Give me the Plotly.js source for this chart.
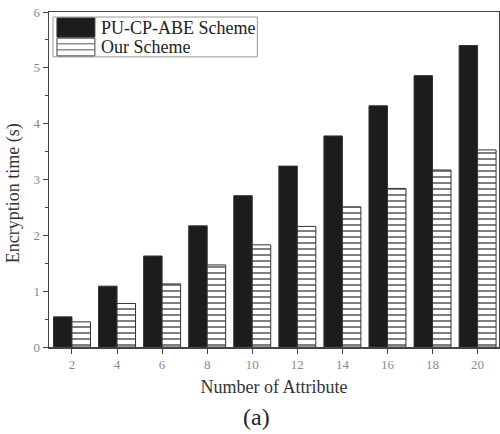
<!DOCTYPE html>
<html>
<head>
<meta charset="utf-8">
<script src="https://cdn.plot.ly/plotly-3.0.1.min.js"></script>
<style>html,body{margin:0;padding:0;background:#fff;}#chart{width:500px;height:434px;}</style>
</head>
<body>
<div id="chart"></div>
<script>
const attributes = [2, 4, 6, 8, 10, 12, 14, 16, 18, 20];
const puCpAbe = [0.54, 1.09, 1.63, 2.17, 2.71, 3.24, 3.78, 4.32, 4.86, 5.40];
const ourScheme = [0.45, 0.78, 1.13, 1.47, 1.83, 2.16, 2.51, 2.84, 3.17, 3.53];
const yTicks = [0, 1, 2, 3, 4, 5, 6];
const seriesNames = ['PU-CP-ABE Scheme', 'Our Scheme'];

const serif = "Liberation Serif, Times New Roman, serif";

const traces = [
  {
    type: 'bar', name: seriesNames[0], x: attributes, y: puCpAbe,
    marker: {color: '#1c1c1c', line: {color: '#333', width: 1}}
  },
  {
    type: 'bar', name: seriesNames[1], x: attributes, y: ourScheme,
    marker: {color: 'white', line: {color: '#333', width: 1},
      pattern: {shape: '-', fgcolor: '#555', bgcolor: 'white', size: 6, solidity: 0.25}}
  }
];

// Custom legend (paper coordinates) with large swatches like the reference
const lx0 = 0.0177, lx1 = 0.102;
const shapes = [
  {type: 'rect', xref: 'paper', yref: 'paper', x0: 0.0089, x1: 0.463, y0: 0.866, y1: 0.985,
    line: {color: '#999', width: 1}, fillcolor: 'white', layer: 'above'},
  {type: 'rect', xref: 'paper', yref: 'paper', x0: lx0, x1: lx1, y0: 0.925, y1: 0.982,
    line: {color: '#333', width: 1}, fillcolor: '#1c1c1c', layer: 'above'},
  {type: 'rect', xref: 'paper', yref: 'paper', x0: lx0, x1: lx1, y0: 0.869, y1: 0.922,
    line: {color: '#444', width: 1}, fillcolor: 'white', layer: 'above'},
  {type: 'line', xref: 'paper', yref: 'paper', x0: lx0, x1: lx1, y0: 0.905, y1: 0.905,
    line: {color: '#555', width: 1}, layer: 'above'},
  {type: 'line', xref: 'paper', yref: 'paper', x0: lx0, x1: lx1, y0: 0.887, y1: 0.887,
    line: {color: '#555', width: 1}, layer: 'above'}
];

const layout = {
  width: 500, height: 434,
  margin: {l: 49, r: 1, t: 12, b: 87},
  paper_bgcolor: 'white', plot_bgcolor: 'white',
  barmode: 'group', bargap: 0.18, bargroupgap: 0,
  font: {family: serif, color: '#000'},
  showlegend: false,
  xaxis: {
    range: [0.98, 20.95], tickvals: attributes, ticktext: attributes.map(String),
    ticks: 'outside', ticklen: 5, tickcolor: '#444', showgrid: false, zeroline: false,
    showline: true, linecolor: '#444', linewidth: 1.5, mirror: true,
    tickfont: {family: serif, size: 13, color: '#888'},
    title: {text: 'Number of Attribute', font: {family: serif, size: 18, color: '#333'}, standoff: 9}
  },
  yaxis: {
    range: [0, 6], tickvals: yTicks, ticks: 'outside', ticklen: 5, tickcolor: '#444',
    minor: {dtick: 0.5, ticks: 'outside', ticklen: 3, tickcolor: '#444', showgrid: false},
    showgrid: false, zeroline: false,
    showline: true, linecolor: '#444', linewidth: 1.5, mirror: true,
    tickfont: {family: serif, size: 13, color: '#888'}
  },
  shapes: shapes,
  annotations: [
    {text: 'Encryption time (s)', xref: 'paper', yref: 'paper', x: -0.077, y: 0.46,
      textangle: -90, xanchor: 'center', yanchor: 'middle', showarrow: false,
      font: {family: serif, size: 18, color: '#333'}},
    {text: seriesNames[0], xref: 'paper', yref: 'paper', x: 0.111, y: 0.953,
      xanchor: 'left', yanchor: 'middle', showarrow: false,
      font: {family: serif, size: 18, color: '#222'}},
    {text: seriesNames[1], xref: 'paper', yref: 'paper', x: 0.111, y: 0.895,
      xanchor: 'left', yanchor: 'middle', showarrow: false,
      font: {family: serif, size: 18, color: '#222'}},
    {text: '(a)', xref: 'paper', yref: 'paper', x: 0.46, y: -0.21,
      xanchor: 'center', yanchor: 'middle', showarrow: false,
      font: {family: serif, size: 24, color: '#222'}}
  ]
};

Plotly.newPlot('chart', traces, layout, {displayModeBar: false, staticPlot: true});
</script>
</body>
</html>
